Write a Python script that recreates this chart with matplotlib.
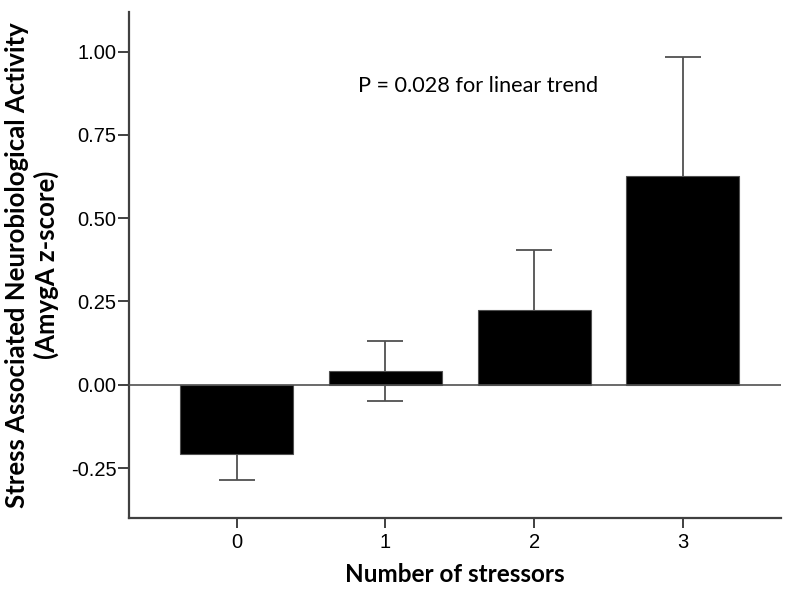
import matplotlib.pyplot as plt
import numpy as np

categories = ['0', '1', '2', '3']
means = [-0.207, 0.042, 0.223, 0.628]
errors = [0.079, 0.090, 0.181, 0.356]
yticks = [-0.25, 0.00, 0.25, 0.50, 0.75, 1.00]

fig = plt.figure(figsize=(7.89, 5.90), dpi=100)
ax = fig.add_axes([129 / 789, 72 / 590, (780.7 - 129) / 789, (518 - 11.7) / 590])

x = np.arange(len(categories))
ax.errorbar(x, means, yerr=errors, fmt='none', ecolor='#505050', elinewidth=1.3,
            capsize=13, capthick=1.3, zorder=1)
ax.bar(x, means, width=0.76, color='black', edgecolor='#505050', linewidth=0.8, zorder=2)
ax.axhline(0, color='#505050', lw=1.2, zorder=3)

ax.set_xlim(-0.724, 3.657)
ax.set_ylim(-0.40, 1.12)
ax.set_xticks(x)
ax.set_xticklabels(categories)
ax.set_yticks(yticks)
ax.set_yticklabels([f'{v:.2f}' for v in yticks])

for s in ['top', 'right']:
    ax.spines[s].set_visible(False)
for s in ['left', 'bottom']:
    ax.spines[s].set_color('#404040')
    ax.spines[s].set_linewidth(1.6)

ax.tick_params(axis='both', colors='#404040', width=1.4, labelcolor='black',
               labelsize=14.5)
ax.tick_params(axis='y', length=8, pad=1)
ax.tick_params(axis='x', length=7, pad=4)
for lab in ax.get_xticklabels() + ax.get_yticklabels():
    lab.set_fontfamily('Liberation Sans')

ax.set_xlabel('Number of stressors', fontsize=17.5, fontweight='bold',
              fontfamily='Lato', labelpad=8)
ax.set_ylabel('Stress Associated Neurobiological Activity\n(AmygA z-score)',
              fontsize=18.5, fontweight='bold', fontfamily='Lato',
              linespacing=1.2)
ax.yaxis.set_label_coords(-0.108, 0.5)

ax.text(1.621, 0.879, 'P = 0.028 for linear trend', ha='center', va='baseline',
        fontsize=15.6, fontfamily='Lato')

fig.savefig('out.png', dpi=100)
